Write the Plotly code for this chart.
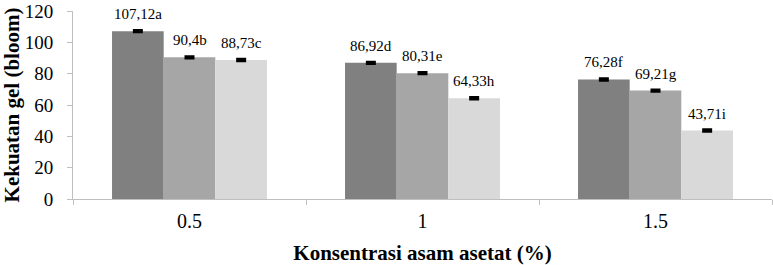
import plotly.graph_objects as go

categories = ["0.5", "1", "1.5"]
series_a = [107.12, 86.92, 76.28]
series_b = [90.4, 80.31, 69.21]
series_c = [88.73, 64.33, 43.71]
errors_a = [0.6, 0.6, 0.6]
errors_b = [0.6, 0.6, 0.6]
errors_c = [0.6, 0.6, 0.6]
labels_a = ["107,12a", "86,92d", "76,28f"]
labels_b = ["90,4b", "80,31e", "69,21g"]
labels_c = ["88,73c", "64,33h", "43,71i"]
y_ticks = [0, 20, 40, 60, 80, 100, 120]

colors = ["#808080", "#a6a6a6", "#d9d9d9"]
bargap = 0.335
font_family = "Liberation Serif"

fig = go.Figure()
all_series = [(series_a, errors_a, labels_a), (series_b, errors_b, labels_b), (series_c, errors_c, labels_c)]
for j, (vals, errs, labs) in enumerate(all_series):
    fig.add_trace(go.Bar(
        x=categories, y=vals, marker=dict(color=colors[j], line=dict(width=0)),
        error_y=dict(type="data", array=errs, color="black", thickness=2.5, width=5),
        showlegend=False,
    ))
    bw = (1 - bargap) / 3
    for i, (v, lab) in enumerate(zip(vals, labs)):
        fig.add_annotation(x=i + (j - 1) * bw, y=v, text=lab, showarrow=False,
                           yanchor="bottom", yshift=7,
                           font=dict(family=font_family, size=15, color="black"))

fig.update_layout(
    barmode="group", bargap=bargap, bargroupgap=0,
    width=773, height=265,
    margin=dict(l=73, r=1, t=11, b=66),
    plot_bgcolor="white", paper_bgcolor="white",
    font=dict(family=font_family, color="black"),
)
fig.update_xaxes(
    type="category", showline=True, linecolor="#bfbfbf", linewidth=1,
    ticks="outside", tickson="boundaries", ticklen=5, tickcolor="#bfbfbf",
    tickfont=dict(size=20, family=font_family), showgrid=False, ticklabelstandoff=4,
    automargin=False,
    title=dict(text="<b>Konsentrasi asam asetat (%)</b>", font=dict(size=21, family=font_family), standoff=15),
)
fig.update_yaxes(
    range=[0, 120], tickvals=y_ticks, showline=True, linecolor="#bfbfbf", linewidth=1,
    ticks="outside", ticklen=5, tickcolor="#bfbfbf", showgrid=False, zeroline=False,
    tickfont=dict(size=19, family=font_family), ticklabelstandoff=10,
    ticklabeloverflow="allow", automargin=False,
    title=dict(text="<b>Kekuatan gel (bloom)</b>", font=dict(size=21, family=font_family), standoff=4),
)

fig.write_html("out.html")
